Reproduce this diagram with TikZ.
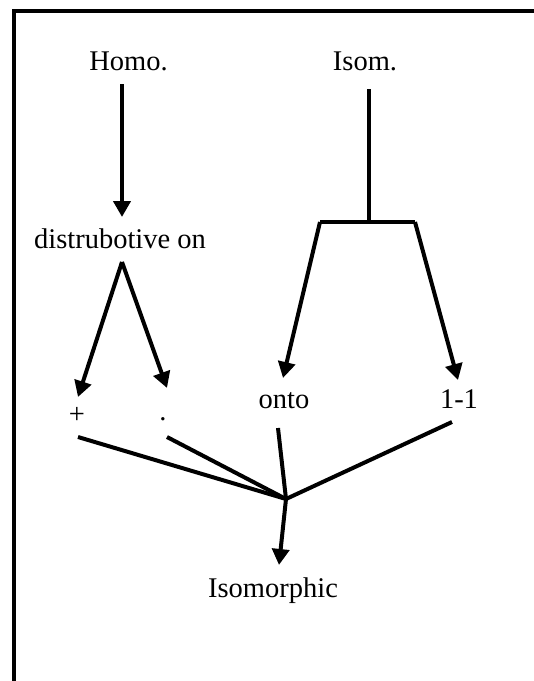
\documentclass[tikz,border=0pt]{standalone}
\usepackage{fontspec}
\setmainfont{Liberation Serif}
\usetikzlibrary{arrows.meta}
\begin{document}
\begin{tikzpicture}[x=1pt,y=-1pt,
  lbl/.style={anchor=base,inner sep=0pt,font=\fontsize{28.5}{34}\selectfont},
  conn/.style={line width=4pt,line join=miter},
  arr/.style={conn,-{Triangle[length=16pt,width=17pt]}}]
\useasboundingbox (0,0) rectangle (534,681);
\draw[line width=3.5pt] (14,700) -- (14,11) -- (560,11);
% text nodes
\node[lbl] (homo) at (128.5,70) {Homo.};
\node[lbl] (isom) at (365,70) {Isom.};
\node[lbl] (dist) at (120,248) {distrubotive on};
\node[lbl] (plus) at (77,423) {+};
\node[lbl] (dot) at (163,420) {.};
\node[lbl] (onto) at (284,408) {onto};
\node[lbl] (oneone) at (459,408) {1-1};
\node[lbl] (iso) at (273,597) {Isomorphic};
% connector points
\coordinate (homoOut) at (122,84);
\coordinate (distIn) at (122,217);
\coordinate (isomOut) at (369,89);
\coordinate (bar) at (369,222);
\coordinate (barL) at (320,222);
\coordinate (barR) at (415,222);
\coordinate (ontoIn) at (283,378);
\coordinate (oneIn) at (458,380);
\coordinate (distOut) at (122,262);
\coordinate (plusIn) at (78,397);
\coordinate (dotIn) at (167,388);
\coordinate (plusOut) at (78,437);
\coordinate (dotOut) at (167,437);
\coordinate (ontoOut) at (278,428);
\coordinate (oneOut) at (452,422);
\coordinate (hub) at (286,499);
\coordinate (isoIn) at (279,565);
% connectors
\draw[arr] (homoOut) -- (distIn);
\draw[conn] (isomOut) -- (bar);
\draw[arr] (barL) -- (ontoIn);
\draw[arr] (barR) -- (oneIn);
\draw[conn] (barL) -- (barR);
\draw[arr] (distOut) -- (plusIn);
\draw[arr] (distOut) -- (dotIn);
\draw[conn] (plusOut) -- (hub);
\draw[conn] (dotOut) -- (hub);
\draw[conn] (ontoOut) -- (hub);
\draw[conn] (oneOut) -- (hub);
\draw[arr] (hub) -- (isoIn);
\end{tikzpicture}
\end{document}
